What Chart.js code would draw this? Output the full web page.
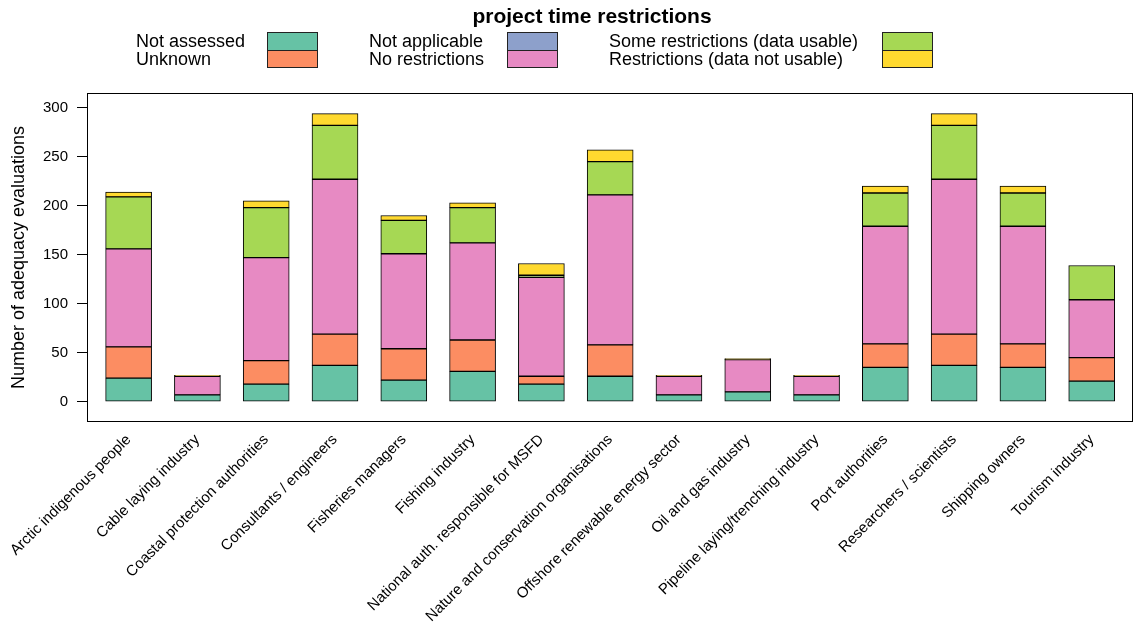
<!DOCTYPE html>
<html>
<head>
<meta charset="utf-8">
<script src="https://cdn.jsdelivr.net/npm/chart.js@4.4.1/dist/chart.umd.min.js"></script>
<style>
  html, body { margin: 0; padding: 0; background: #fff; }
  #wrap { width: 1134px; height: 624px; position: relative; }
</style>
</head>
<body>
<div id="wrap"><canvas id="c"></canvas></div>
<script>
// Stakeholder groups along the x axis
const categories = [
  'Arctic indigenous people', 'Cable laying industry', 'Coastal protection authorities',
  'Consultants / engineers', 'Fisheries managers', 'Fishing industry',
  'National auth. responsible for MSFD', 'Nature and conservation organisations',
  'Offshore renewable energy sector', 'Oil and gas industry',
  'Pipeline laying/trenching industry', 'Port authorities', 'Researchers / scientists',
  'Shipping owners', 'Tourism industry'
];

// Counts of adequacy evaluations per project-time-restriction class
const notAssessed     = [24, 7, 18, 37, 22, 31, 18, 26, 7, 10, 7, 35, 37, 35, 21];
const unknown         = [32, 0, 24, 32, 32, 32, 8, 32, 0, 0, 0, 24, 32, 24, 24];
const notApplicable   = [0, 0, 0, 0, 0, 0, 0, 0, 0, 0, 0, 0, 0, 0, 0];
const noRestrictions  = [100, 19, 105, 158, 97, 99, 101, 153, 19, 33, 19, 120, 158, 120, 59];
const someRestrictions = [53, 0, 51, 55, 34, 36, 2, 34, 0, 0, 0, 34, 55, 34, 35];
const restrictions    = [5, 1, 7, 12, 5, 5, 12, 12, 1, 1, 1, 7, 12, 7, 0];

const yTicks = [0, 50, 100, 150, 200, 250, 300];

const seriesLabels = [
  'Not assessed', 'Unknown', 'Not applicable', 'No restrictions',
  'Some restrictions (data usable)', 'Restrictions (data not usable)'
];
const seriesColors = ['#66C2A5', '#FC8D62', '#8DA0CB', '#E78AC3', '#A6D854', '#FFD92F'];
const seriesValues = [notAssessed, unknown, notApplicable, noRestrictions, someRestrictions, restrictions];

const legendTitle = 'project time restrictions';
const yTitle = 'Number of adequacy evaluations';

const FONT = '"Liberation Sans", Arial, Helvetica, sans-serif';
Chart.defaults.font.family = FONT;
Chart.defaults.color = '#000';

// Box around the plotting region
const framePlugin = {
  id: 'frame',
  afterDatasetsDraw(chart) {
    const { ctx, chartArea: a } = chart;
    ctx.save();
    ctx.strokeStyle = '#000';
    ctx.lineWidth = 1;
    ctx.strokeRect(a.left + 0.5, a.top + 0.5, a.right - a.left - 1, a.bottom - a.top - 1);
    ctx.restore();
  }
};

// Three-column legend with its title, swatches to the right of the text
const legendPlugin = {
  id: 'boxLegend',
  afterDraw(chart) {
    const { ctx } = chart;
    const cols = [
      { textX: 136, boxL: 267, boxR: 318 },
      { textX: 369, boxL: 507, boxR: 558 },
      { textX: 609, boxL: 882, boxR: 933 }
    ];
    const boxTop = 32, rowH = 17.5;
    const baselines = [47, 65];
    ctx.save();
    ctx.font = 'bold 21px ' + FONT;
    ctx.fillStyle = '#000';
    ctx.textAlign = 'center';
    ctx.textBaseline = 'alphabetic';
    ctx.fillText(legendTitle, 592, 23);

    ctx.font = '18px ' + FONT;
    ctx.textAlign = 'left';
    chart.data.datasets.forEach((ds, i) => {
      const c = cols[Math.floor(i / 2)];
      const r = i % 2;
      ctx.fillStyle = '#000';
      ctx.fillText(ds.label, c.textX, baselines[r]);
      const y0 = Math.round(boxTop + r * rowH);
      const y1 = Math.round(boxTop + (r + 1) * rowH);
      ctx.fillStyle = ds.backgroundColor;
      ctx.fillRect(c.boxL, y0, c.boxR - c.boxL, y1 - y0);
      ctx.strokeStyle = '#222';
      ctx.lineWidth = 1;
      ctx.strokeRect(c.boxL + 0.5, y0 + 0.5, c.boxR - c.boxL - 1, y1 - y0);
    });
    ctx.restore();
  }
};

const datasets = seriesValues.map((vals, k) => ({
  label: seriesLabels[k],
  data: vals.map((v, i) => ({ x: i, y: v })),
  backgroundColor: seriesColors[k],
  borderColor: '#000',
  borderWidth: 1,
  borderSkipped: false,
  barThickness: 46,
  stack: 'all'
}));

new Chart(document.getElementById('c'), {
  type: 'bar',
  data: { datasets },
  plugins: [framePlugin, legendPlugin],
  options: {
    responsive: true,
    maintainAspectRatio: false,
    animation: false,
    devicePixelRatio: 1,
    layout: { padding: { top: 93, right: 1, left: 0, bottom: 0 } },
    plugins: { legend: { display: false }, tooltip: { enabled: false } },
    scales: {
      x: {
        type: 'linear',
        stacked: true,
        offset: false,
        min: -0.605,
        max: 14.6,
        grid: { display: false },
        border: { display: false },
        afterBuildTicks(scale) { scale.ticks = categories.map((_, i) => ({ value: i })); },
        afterFit(scale) { scale.height = 202; },
        ticks: {
          autoSkip: false,
          minRotation: 45,
          maxRotation: 45,
          padding: 1,
          color: '#000',
          font: { size: 15 },
          callback: (v) => categories[v]
        }
      },
      y: {
        stacked: true,
        min: -20.7,
        max: 315,
        afterBuildTicks(scale) { scale.ticks = yTicks.map(v => ({ value: v })); },
        afterFit(scale) { scale.width = 87; },
        grid: { drawOnChartArea: false, drawTicks: true, tickLength: 10, color: '#000', lineWidth: 1 },
        border: { display: false },
        ticks: { padding: 9, color: '#000', font: { size: 15 } },
        title: { display: true, text: yTitle, color: '#000', font: { size: 18 }, padding: { top: 8, bottom: 0 } }
      }
    }
  }
});
</script>
</body>
</html>
